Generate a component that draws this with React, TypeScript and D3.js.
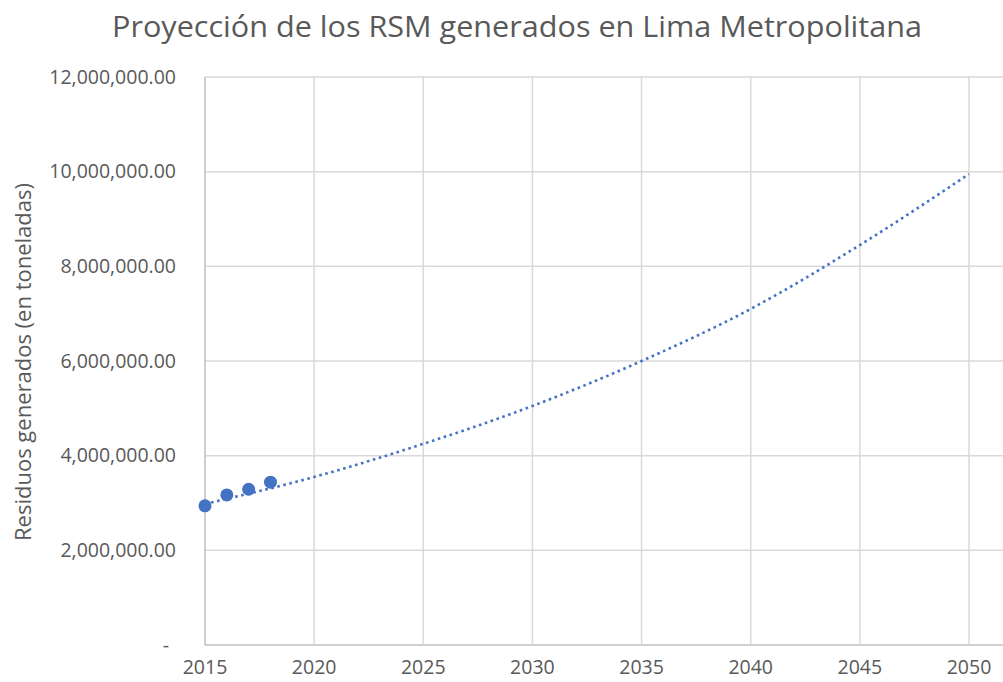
import React from 'react'
import * as d3 from 'd3'

const years = [2015, 2016, 2017, 2018]
const residuos = [2940000, 3170000, 3290000, 3440000]

const trendYears = [2015, 2020, 2025, 2030, 2035, 2040, 2045, 2050]
const trendValues = [2980000, 3550000, 4250000, 5050000, 6000000, 7100000, 8450000, 9950000]

const xTicks = [2015, 2020, 2025, 2030, 2035, 2040, 2045, 2050]
const yTicks = [0, 2000000, 4000000, 6000000, 8000000, 10000000, 12000000]

const W = 1003
const H = 682
const FONT = '"Open Sans", "Noto Sans", sans-serif'
const TEXT = '#595959'
const GRID = '#d9d9d9'
const BLUE = '#4472c4'

function fmt(v: number) {
  if (v === 0) return '-'
  return d3.format(',.2f')(v)
}

export default function App() {
  const x = d3.scaleLinear().domain([2015, 2050]).range([205, 969])
  const y = d3.scaleLinear().domain([0, 12000000]).range([645, 77])
  const plotRight = W

  const trendLine = d3.line<number>()
    .x((_, i) => x(trendYears[i]))
    .y(d => y(d))
    .curve(d3.curveMonotoneX)

  return (
    <div style={{ position: 'fixed', left: 0, top: 0 }}>
      <svg width={W} height={H} style={{ background: '#fff', display: 'block' }}>
        <text x={112} y={37} fontFamily={FONT} fontSize={30} fill={TEXT}
          textLength={810} lengthAdjust="spacingAndGlyphs">
          Proyección de los RSM generados en Lima Metropolitana
        </text>

        {/* gridlines */}
        {yTicks.map(t => (
          <line key={'gy' + t} x1={x(2015)} x2={plotRight} y1={y(t)} y2={y(t)}
            stroke={t === 0 ? '#bfbfbf' : GRID} strokeWidth={1.5} />
        ))}
        {xTicks.map(t => (
          <line key={'gx' + t} x1={x(t)} x2={x(t)} y1={y(12000000)} y2={y(0)}
            stroke={t === 2015 ? '#bfbfbf' : GRID} strokeWidth={1.5} />
        ))}

        {/* y tick labels */}
        {yTicks.map(t => (
          <text key={'ly' + t} x={t === 0 ? 169 : 176} y={y(t)} dy="0.35em" textAnchor="end"
            fontFamily={FONT} fontSize={19.5} fill={TEXT}>
            {fmt(t)}
          </text>
        ))}

        {/* x tick labels */}
        {xTicks.map(t => (
          <text key={'lx' + t} x={x(t)} y={674} textAnchor="middle"
            fontFamily={FONT} fontSize={19.5} fill={TEXT}>
            {t}
          </text>
        ))}

        <text transform={`translate(31,362) rotate(-90)`} textAnchor="middle"
          fontFamily={FONT} fontSize={21} fill={TEXT}
          textLength={358} lengthAdjust="spacingAndGlyphs">
          Residuos generados (en toneladas)
        </text>

        {/* trendline */}
        <path d={trendLine(trendValues) || ''} fill="none" stroke={BLUE}
          strokeWidth={2.6} strokeDasharray="2.6,3.6" />

        {/* data points */}
        {residuos.map((v, i) => (
          <circle key={'p' + i} cx={x(years[i])} cy={y(v)} r={6.5} fill={BLUE} />
        ))}
      </svg>
    </div>
  )
}
